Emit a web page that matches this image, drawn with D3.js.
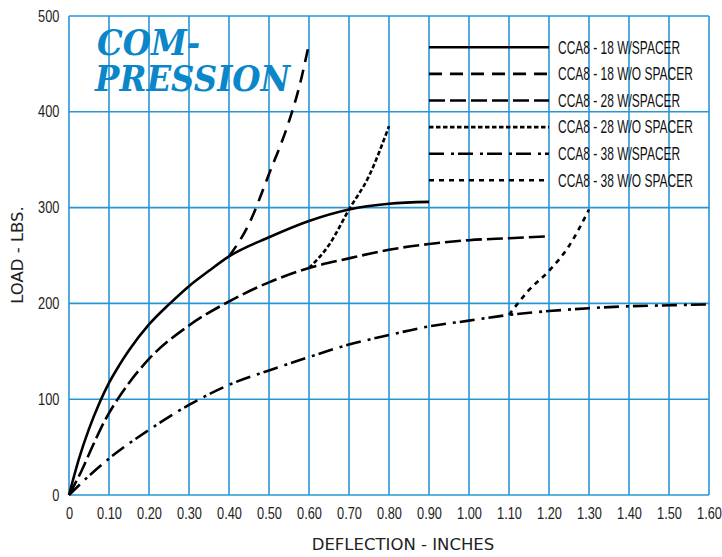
<!DOCTYPE html>
<html>
<head>
<meta charset="utf-8">
<script src="https://cdn.jsdelivr.net/npm/d3@7"></script>
<style>
body{margin:0;background:#fff;}
.tick text{font-family:"Liberation Sans",sans-serif;font-size:16px;fill:#222;}
</style>
</head>
<body>
<svg id="chart" width="722" height="557"></svg>
<script>
// tick values / labels
const xTicks = [0,0.1,0.2,0.3,0.4,0.5,0.6,0.7,0.8,0.9,1.0,1.1,1.2,1.3,1.4,1.5,1.6];
const xTickLabels = ["0","0.10","0.20","0.30","0.40","0.50","0.60","0.70","0.80","0.90","1.00","1.10","1.20","1.30","1.40","1.50","1.60"];
const yTicks = [0,100,200,300,400,500];

const seriesNames = ["CCA8 - 18 W/SPACER","CCA8 - 18 W/O SPACER","CCA8 - 28 W/SPACER","CCA8 - 28 W/O SPACER","CCA8 - 38 W/SPACER","CCA8 - 38 W/O SPACER"];

// deflection (in) / load (lbs)
const s18wX = [0,0.025,0.05,0.075,0.1,0.125,0.15,0.2,0.25,0.3,0.35,0.4,0.5,0.6,0.7,0.8,0.9];
const s18wY = [0,38,69,95,117,135,151,178,199,218,234,249,269,286,298,304,306];
const s18woX = [0.4,0.45,0.5,0.55,0.575,0.6];
const s18woY = [249,283,335,390,425,471];
const s28wX = [0,0.03,0.06,0.09,0.12,0.15,0.2,0.3,0.4,0.5,0.6,0.7,0.8,0.9,1.0,1.1,1.2];
const s28wY = [0,24,52,78,99,117,142,177,202,222,237,247,256,262,266,268,270];
const s28woX = [0.6,0.65,0.7,0.75,0.8];
const s28woY = [237,261,298,333,385];
const s38wX = [0,0.05,0.1,0.2,0.3,0.4,0.5,0.6,0.7,0.8,0.9,1.0,1.1,1.2,1.3,1.4,1.5,1.6];
const s38wY = [0,20,38,68,94,115,130,144,157,167,176,182,188,192,195,197,198,199];
const s38woX = [1.1,1.15,1.2,1.25,1.3];
const s38woY = [188,214,234,260,298];

const seriesX = [s18wX,s18woX,s28wX,s28woX,s38wX,s38woX];
const seriesY = [s18wY,s18woY,s28wY,s28woY,s38wY,s38woY];
const dashes = [null,"13,8","16,5","4.5,2.5","15,7,3,4","5,5"];

const margin = {left:69, top:16, right:13, bottom:62};
const W = 722, H = 557;
const w = W - margin.left - margin.right, h = H - margin.top - margin.bottom;
const blue = "#2a95d5";

const svg = d3.select("#chart");
const g = svg.append("g").attr("transform",`translate(${margin.left},${margin.top})`);

const x = d3.scaleLinear().domain([0,1.6]).range([0,w]);
const y = d3.scaleLinear().domain([0,500]).range([h,0]);

// grid
g.append("g").selectAll("line").data(xTicks).enter().append("line")
	.attr("x1",d=>x(d)).attr("x2",d=>x(d)).attr("y1",0).attr("y2",h)
	.attr("stroke",blue).attr("stroke-width",1.6);
g.append("g").selectAll("line").data(yTicks).enter().append("line")
	.attr("x1",0).attr("x2",w).attr("y1",d=>y(d)).attr("y2",d=>y(d))
	.attr("stroke",blue).attr("stroke-width",1.6);

// title, one text block with two lines
const title = g.append("text").attr("fill","#0a86c9")
	.attr("transform","translate(27,39) scale(0.9,1)")
	.style("font-family","'DejaVu Serif',serif").style("font-weight","bold")
	.style("font-style","italic").style("font-size","36px");
title.append("tspan").attr("x",1).attr("y",0).text("COM-");
title.append("tspan").attr("x",-1).attr("y",36).text("PRESSION");

// axes (narrow labels: squeeze horizontally)
const axisX = d3.axisBottom(x).tickValues(xTicks).tickFormat((d,i)=>xTickLabels[i]).tickSize(0).tickPadding(13);
const axisY = d3.axisLeft(y).tickValues(yTicks).tickSize(0).tickPadding(12);
g.append("g").attr("transform",`translate(0,${h})`).call(axisX)
	.call(a=>a.select(".domain").remove())
	.call(a=>a.selectAll("text").attr("transform","scale(0.8,1)"));
g.append("g").call(axisY)
	.call(a=>a.select(".domain").remove())
	.call(a=>a.selectAll("text").attr("transform","scale(0.8,1)"));

// curves
const line = d3.line().x(d=>x(d[0])).y(d=>y(d[1])).curve(d3.curveMonotoneX);
seriesX.forEach((xs,i)=>{
	const pts = xs.map((v,j)=>[v,seriesY[i][j]]);
	g.append("path").datum(pts)
		.attr("d",line)
		.attr("fill","none")
		.attr("stroke","#000")
		.attr("stroke-width",2.6)
		.attr("stroke-dasharray",dashes[i]);
});

// legend
const leg = svg.append("g");
const legTexts = [];
seriesNames.forEach((name,i)=>{
	const ly = 47.3 + i*26.6;
	leg.append("line").attr("x1",429).attr("x2",549).attr("y1",ly).attr("y2",ly)
		.attr("stroke","#000").attr("stroke-width",2.6).attr("stroke-dasharray",dashes[i]);
	const t = leg.append("text").attr("transform",`translate(558,${ly})`)
		.attr("dy","0.36em")
		.style("font-family","'Liberation Sans',sans-serif")
		.style("font-size","17.5px").attr("fill","#111")
		.text(name);
	legTexts.push([t,ly]);
});
// squeeze legend text to the narrow width of the original
const maxW = d3.max(legTexts,d=>d[0].node().getComputedTextLength());
const sx = 135/maxW;
legTexts.forEach(([t,ly])=>t.attr("transform",`translate(558,${ly}) scale(${sx},1)`));

// axis titles
svg.append("text").attr("x",403).attr("y",550).attr("text-anchor","middle")
	.style("font-family","'DejaVu Sans',sans-serif").style("font-size","16.5px").attr("fill","#222")
	.text("DEFLECTION - INCHES");
svg.append("text").attr("transform","translate(23,255) rotate(-90)").attr("text-anchor","middle")
	.style("font-family","'DejaVu Sans',sans-serif").style("font-size","16.5px").attr("fill","#222")
	.text("LOAD - LBS.");
</script>
</body>
</html>
